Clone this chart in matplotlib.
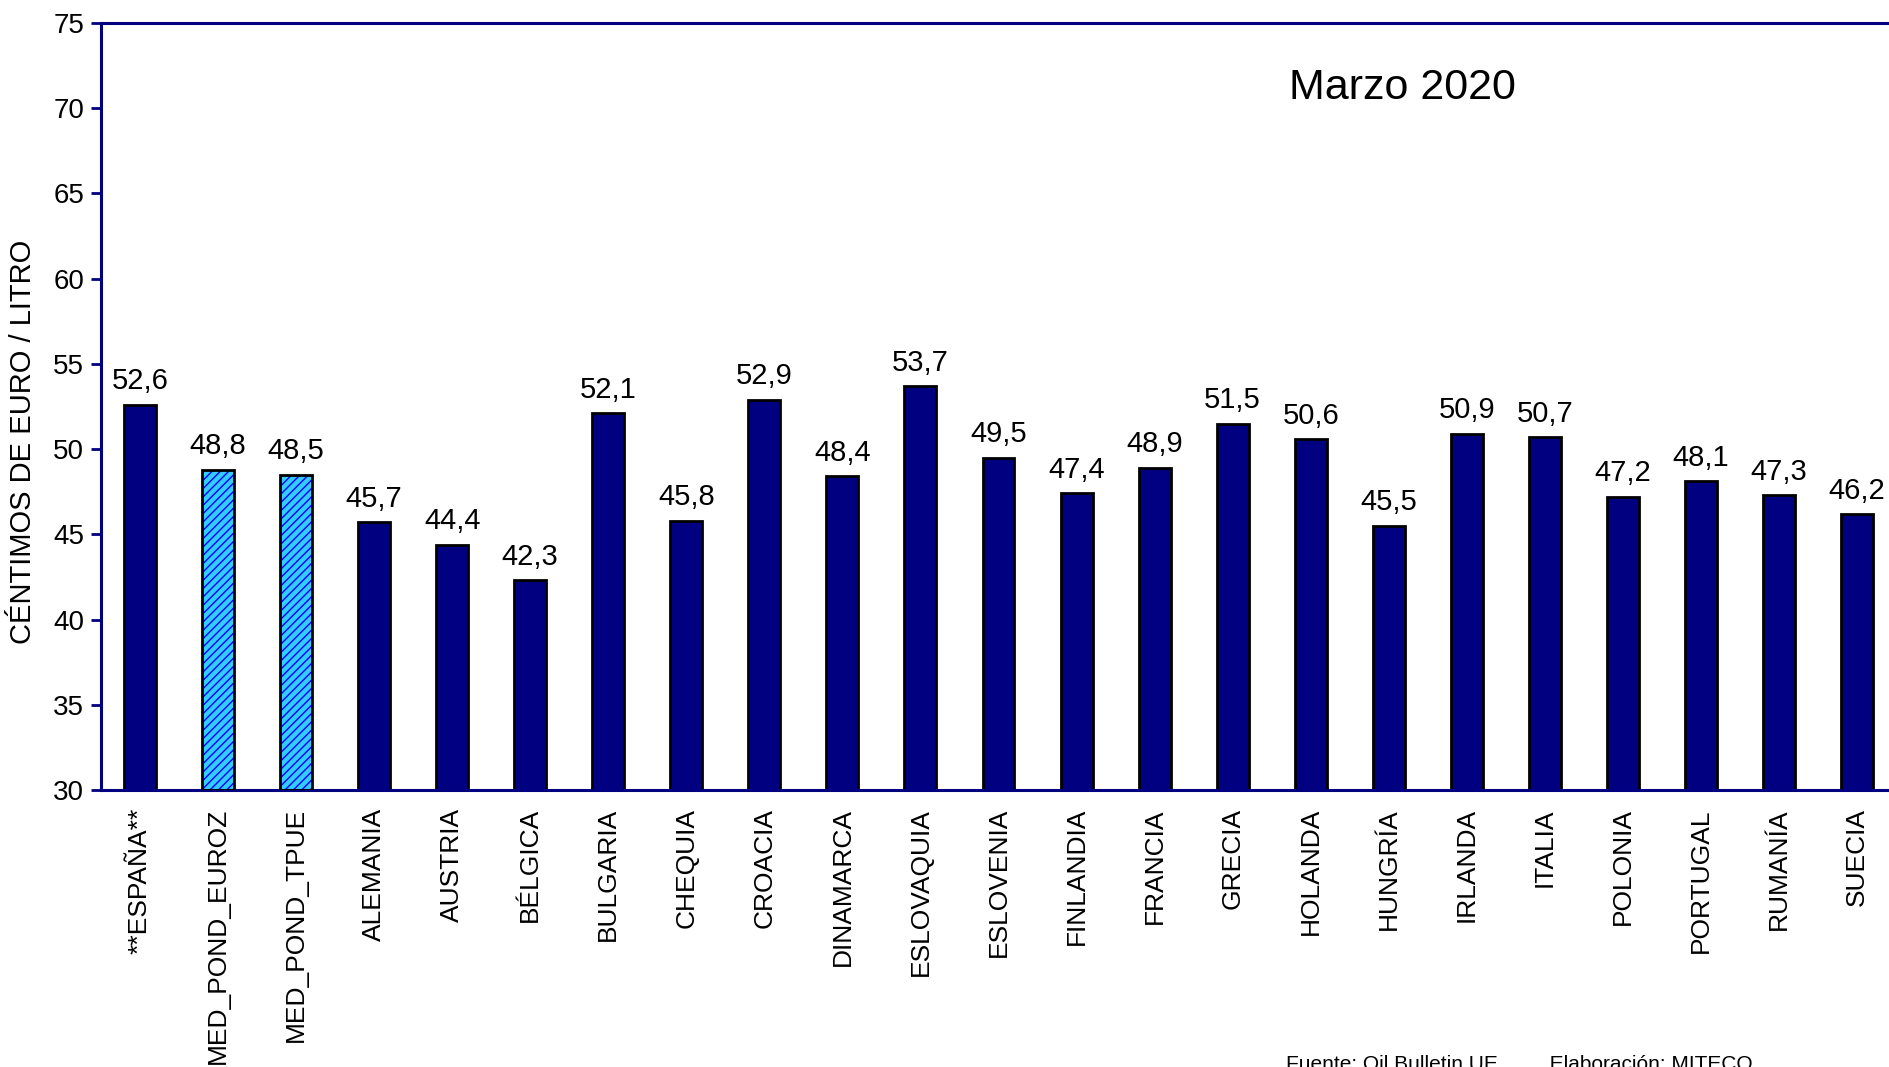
import numpy as np
import matplotlib
matplotlib.use("Agg")
from matplotlib import pyplot as plt

plt.rcParams['font.family'] = ['Liberation Sans', 'DejaVu Sans']
plt.rcParams['hatch.linewidth'] = 1.0

# data (Marzo 2020)
countries = ['**ESPAÑA**', 'MED_POND_EUROZ', 'MED_POND_TPUE', 'ALEMANIA', 'AUSTRIA',
             'BÉLGICA', 'BULGARIA', 'CHEQUIA', 'CROACIA', 'DINAMARCA', 'ESLOVAQUIA',
             'ESLOVENIA', 'FINLANDIA', 'FRANCIA', 'GRECIA', 'HOLANDA', 'HUNGRÍA',
             'IRLANDA', 'ITALIA', 'POLONIA', 'PORTUGAL', 'RUMANÍA', 'SUECIA']
values = [52.6, 48.8, 48.5, 45.7, 44.4, 42.3, 52.1, 45.8, 52.9, 48.4, 53.7,
          49.5, 47.4, 48.9, 51.5, 50.6, 45.5, 50.9, 50.7, 47.2, 48.1, 47.3, 46.2]
averages = ['MED_POND_EUROZ', 'MED_POND_TPUE']
title = 'Marzo 2020'
y_label = 'CÉNTIMOS DE EURO / LITRO'
source = 'Fuente: Oil Bulletin UE         Elaboración: MITECO'

navy = '#000080'
W, H = 1890, 1067
fig = plt.figure(figsize=(W/100, H/100), dpi=100)
# axes goes a bit past the right edge, as in the original
ax = fig.add_axes([101/W, 1 - 790/H, (1896 - 101)/W, (790 - 23)/H])

x = np.arange(len(countries)) + 0.5
is_avg = np.array([c in averages for c in countries])
width = 0.41

ax.bar(x[~is_avg], np.array(values)[~is_avg] - 30, bottom=30, width=width,
       color=navy, edgecolor='black', linewidth=2, zorder=2)
ax.bar(x[is_avg], np.array(values)[is_avg] - 30, bottom=30, width=width,
       color='#33CCFF', edgecolor='#0000FF', linewidth=0, hatch='////', zorder=2)
ax.bar(x[is_avg], np.array(values)[is_avg] - 30, bottom=30, width=width,
       fill=False, edgecolor='black', linewidth=2, zorder=3)

for xi, v in zip(x, values):
    ax.text(xi, v + 0.55, f"{v:.1f}".replace('.', ','), ha='center', va='bottom',
            fontsize=21)

ax.set_xlim(0, len(countries))
ax.set_ylim(30, 75)
ax.set_yticks(np.arange(30, 76, 5))
ax.set_xticks(x)
ax.set_xticklabels(countries, rotation=90, fontsize=19, va='top')
ax.tick_params(axis='x', length=0, pad=13)
ax.tick_params(axis='y', labelsize=20, length=7, width=2, color=navy, pad=5)

for side in ['left', 'top', 'bottom', 'right']:
    ax.spines[side].set_color(navy)
    ax.spines[side].set_linewidth(2.2)

ax.set_ylabel(y_label, fontsize=21)
ax.yaxis.set_label_coords(-64/1795, 0.454)

ax.text(1402/W, 1 - 88/H, title, transform=fig.transFigure, ha='center',
        va='center', fontsize=31)
fig.text(1286/W, 1 - 1055/H, source, ha='left', va='top', fontsize=15)

fig.savefig('out.png', dpi=100)
